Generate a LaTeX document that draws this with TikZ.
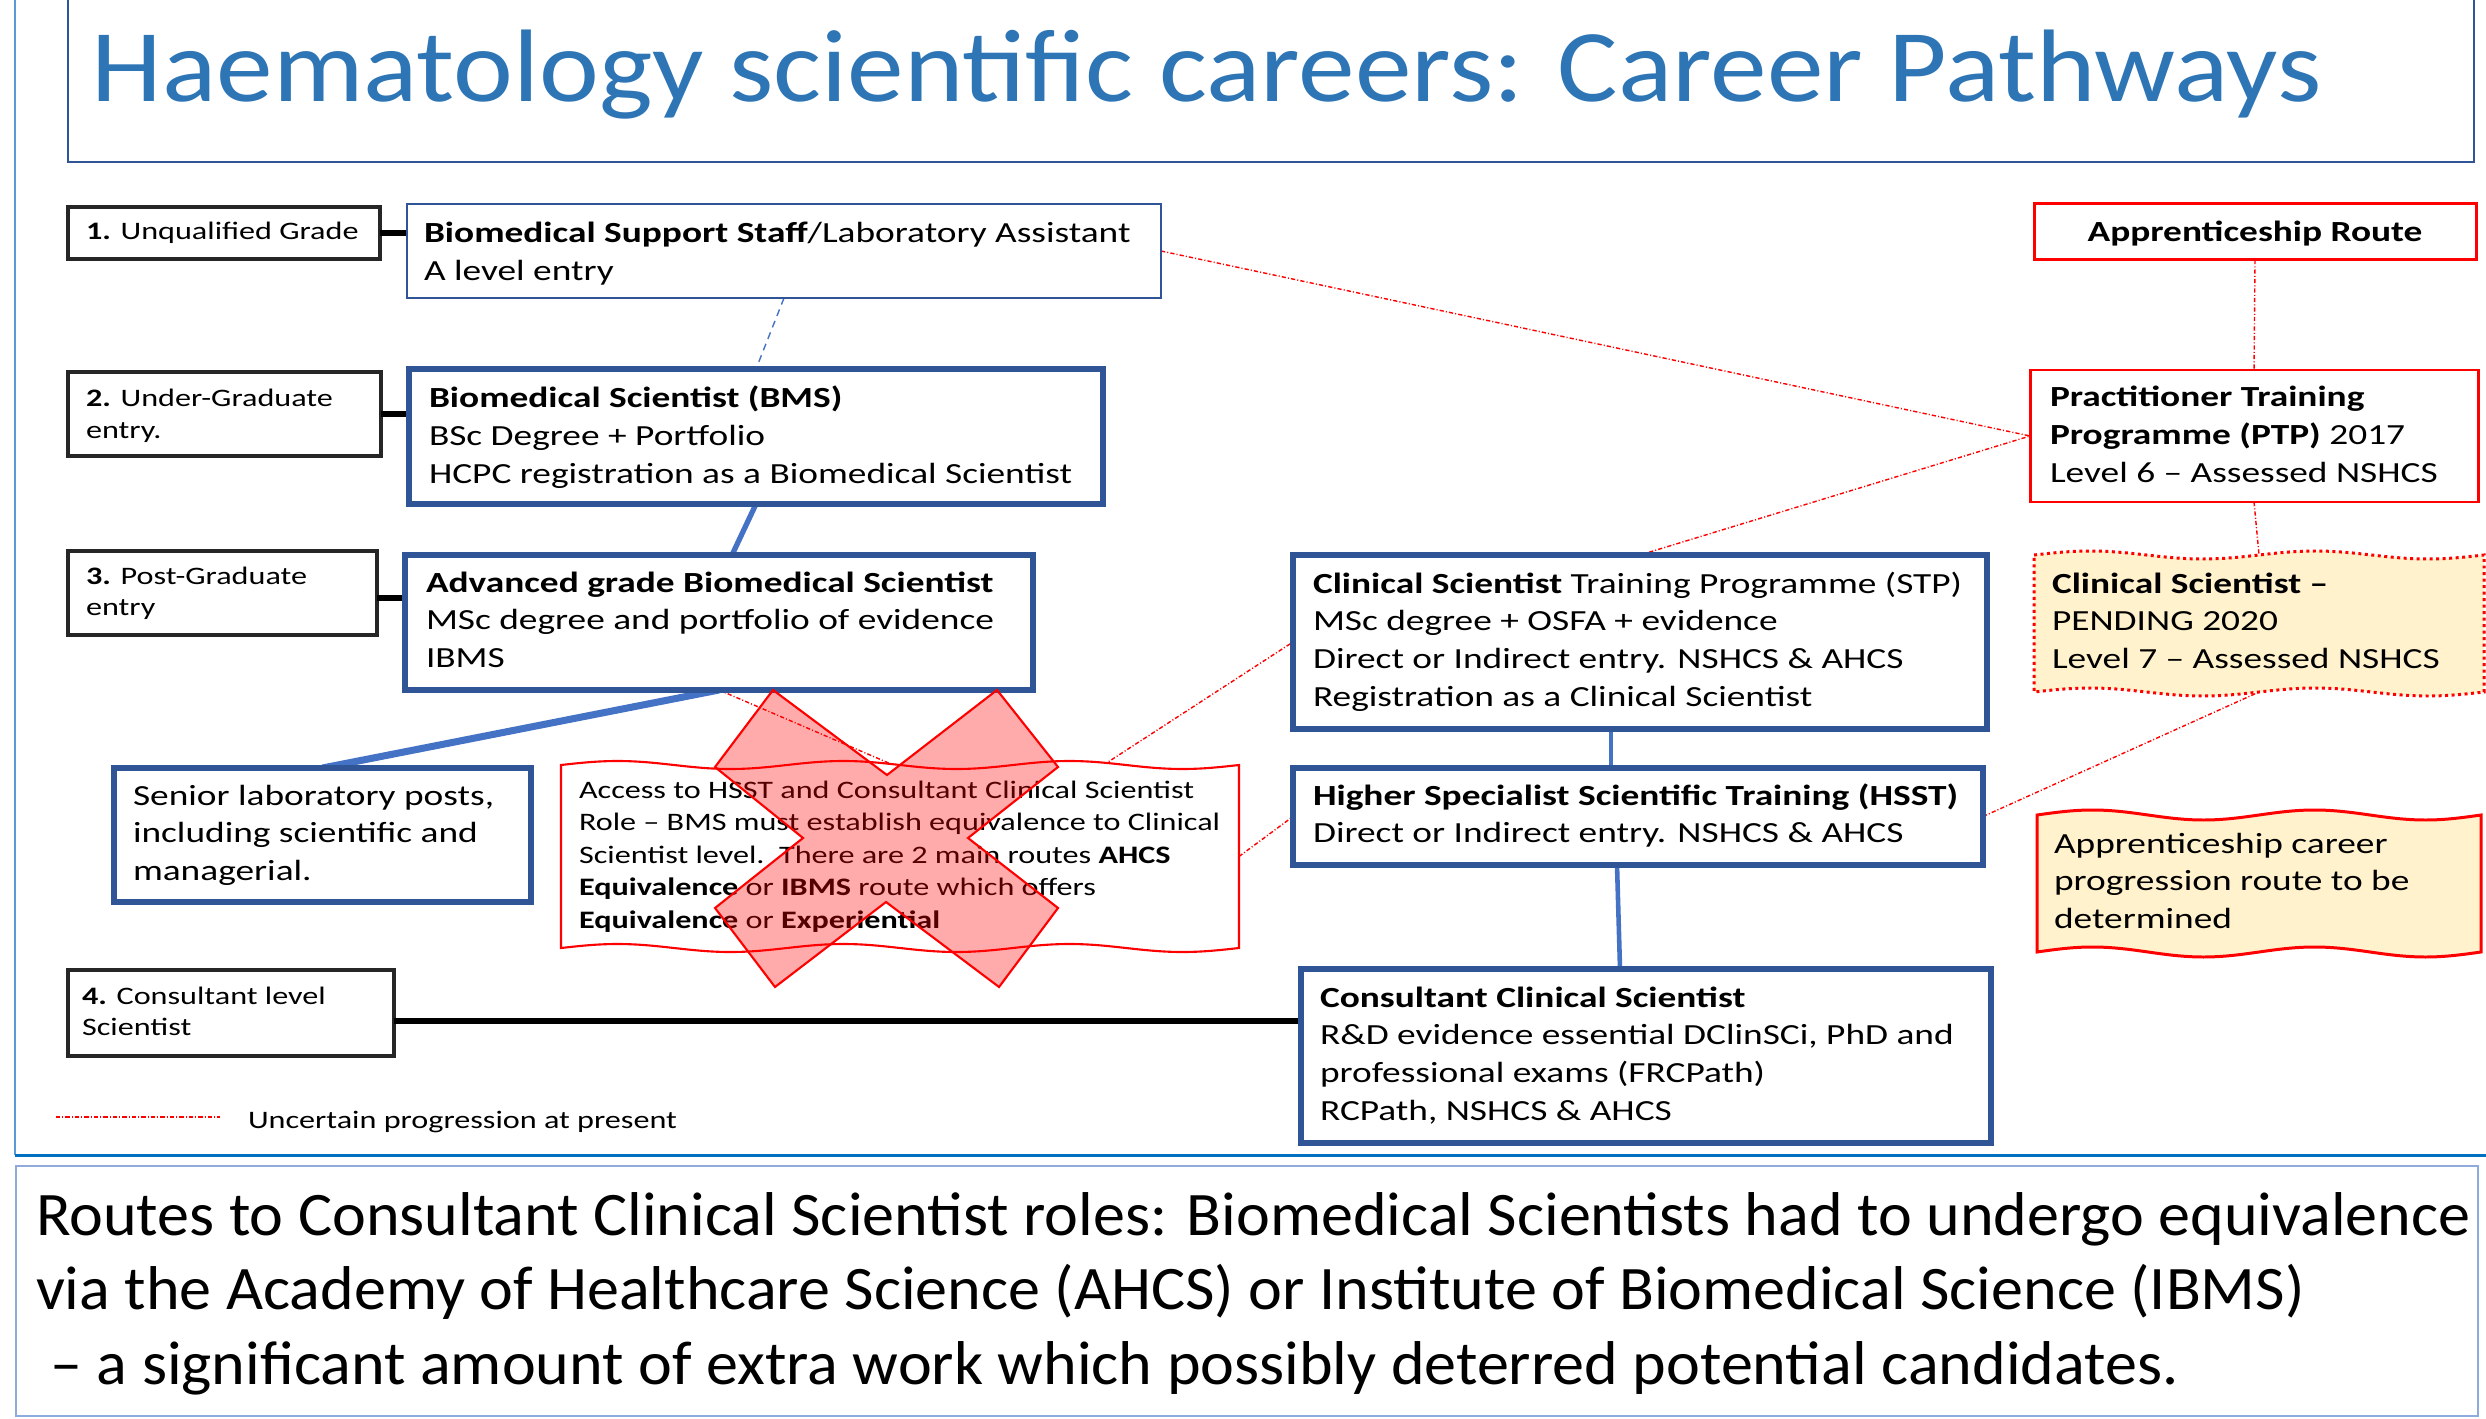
\documentclass[tikz,border=0pt]{standalone}
\usepackage{fontspec}
\setmainfont{Carlito}[FakeStretch=1.28]
\newfontfamily\titlefont{Carlito}[FakeStretch=1.10]
\newfontfamily\captionfont{Carlito}[FakeStretch=1.035]
\usetikzlibrary{fit,calc}

\definecolor{titleblue}{HTML}{2E75B6}
\definecolor{boxblue}{HTML}{2F5597}
\definecolor{linkblue}{HTML}{4472C4}
\definecolor{framelight}{HTML}{5B9BD5}
\definecolor{frameblue}{HTML}{0070C0}
\definecolor{notefill}{HTML}{FFF2CC}
\definecolor{captionframe}{HTML}{8FAADC}
\definecolor{levelblack}{HTML}{262626}
\definecolor{alertred}{HTML}{FF0000}

\newcommand{\fstitle}{\titlefont\fontsize{29.3pt}{35pt}\selectfont}
\newcommand{\fsbox}{\fontsize{8.3pt}{10.8pt}\selectfont}
\newcommand{\fslevel}{\fontsize{7.15pt}{9pt}\selectfont}
\newcommand{\fsnote}{\fontsize{7.15pt}{9.25pt}\selectfont}
\newcommand{\fscaption}{\captionfont\fontsize{17.6pt}{21.3pt}\selectfont}
\newcommand{\lines}[1]{\begin{tabular}[t]{@{}l@{}}#1\end{tabular}}

% rectangle with wavy top and bottom edges
\newcommand{\wavyrect}[7]{%
  \pgfmathsetmacro{\wq}{(#4-#2)/(4*#6)}%
  \path[#1] (#2,#3)
    \foreach \k in {1,...,#6}{ sin ++(\wq,-#7) cos ++(\wq,#7) sin ++(\wq,#7) cos ++(\wq,-#7) }
    -- (#4,#5)
    \foreach \k in {1,...,#6}{ sin ++(-\wq,#7) cos ++(-\wq,-#7) sin ++(-\wq,-#7) cos ++(-\wq,#7) }
    -- cycle;
}

\tikzset{
  frame/.style={inner sep=0pt, outer sep=0pt},
  levelbox/.style={frame, draw=levelblack, line width=1.4pt, fill=white},
  mainbox/.style={frame, draw=boxblue, line width=1.7pt, fill=white},
  thinbox/.style={frame, draw=boxblue, line width=0.6pt, fill=white},
  routebox/.style={frame, draw=alertred, line width=0.85pt, fill=white},
  anchorbox/.style={frame},
  txt/.style={anchor=base west, inner sep=0pt, outer sep=0pt, text=black},
  levellink/.style={draw=black, line width=1.5pt},
  bluelink/.style={draw=linkblue, line width=1.5pt},
  bluedash/.style={draw=linkblue, line width=0.4pt, dash pattern=on 2pt off 1.5pt},
  uncertain/.style={draw=alertred, line width=0.4pt, dash pattern=on 1.2pt off 0.6pt on 0.3pt off 0.6pt},
}

\begin{document}
\begin{tikzpicture}[x=0.01cm, y=-0.01cm]
\useasboundingbox (0,0) rectangle (2486,1419);

% page frame and title banner
\draw[framelight, line width=0.6pt] (15,0) -- (15,1155);
\draw[frameblue, line width=0.85pt] (15,1155) -- (2486,1155);
\draw[boxblue, line width=0.6pt] (68,-10) rectangle (2474,162);
\node[anchor=base west, inner sep=0pt, text=titleblue, font=\fstitle] (title) at (91,102)
  {Haematology scientific careers: Career Pathways};

% boxes (outlines only, text is set separately)
\node[levelbox, fit={(68,207) (380,259)}] (lvl1) {};
\node[levelbox, fit={(68,372) (381,456)}] (lvl2) {};
\node[levelbox, fit={(68,551) (377,635)}] (lvl3) {};
\node[levelbox, fit={(68,970) (394,1056)}] (lvl4) {};

\node[anchorbox, fit={(407,204) (1161,298)}] (bss) {};
\node[anchorbox, fit={(409,369) (1103,504)}] (bms) {};
\node[anchorbox, fit={(405,555) (1033,690)}] (adv) {};
\node[anchorbox, fit={(114,768) (531,902)}] (senior) {};
\node[anchorbox, fit={(561,765) (1239,948)}] (acc) {};
\node[anchorbox, fit={(1293,555) (1987,729)}] (stp) {};
\node[anchorbox, fit={(1293,768) (1983,865)}] (hsst) {};
\node[anchorbox, fit={(1301,969) (1991,1143)}] (cons) {};
\node[anchorbox, fit={(2034,204) (2476,260)}] (app) {};
\node[anchorbox, fit={(2030,370) (2478,502)}] (ptp) {};
\node[anchorbox, fit={(2034,555) (2484,692)}] (pend) {};
\node[anchorbox, fit={(2037,815) (2481,952)}] (career) {};

% uncertain progression links
\draw[uncertain] (bss.east) -- (ptp.west);
\draw[uncertain] (stp.north) -- (ptp.west);
\draw[uncertain] (adv.south) -- ($(acc.north west)!0.49!(acc.north east)$);
\draw[uncertain] ($(acc.north west)!0.8!(acc.north east)$) -- (stp.west);
\draw[uncertain] (acc.east) -- (hsst.west);
\draw[uncertain] (hsst.east) -- (pend.south);
\draw[uncertain] (app.south) -- (ptp.north);
\draw[uncertain] (ptp.south) -- (pend.north);

% solid links
\draw[levellink] (lvl1.east) -- (bss.west |- lvl1.east);
\draw[levellink] (lvl2.east) -- (bms.west |- lvl2.east);
\draw[levellink] ([yshift=-0.05cm]lvl3.east) -- ([yshift=-0.05cm]adv.west |- lvl3.east);
\draw[levellink, line width=1.7pt] ([yshift=-0.08cm]lvl4.east) -- ([yshift=-0.08cm]cons.west |- lvl4.east);
\draw[bluedash] (bss.south) -- (bms.north);
\draw[bluelink] (bms.south) -- ($(adv.north)+(13,0)$);
\draw[bluelink, line width=2pt] (adv.south) -- (senior.north);
\draw[bluelink, line width=1.3pt] ($(stp.south)+(-29,0)$) -- ($(hsst.north)+(-27,0)$);
\draw[bluelink, line width=1.3pt] ($(hsst.south)+(-21,0)$) -- ($(cons.north)+(-26,0)$);

% box outlines
\draw[thinbox] (bss.north west) rectangle (bss.south east);
\draw[mainbox] (bms.north west) rectangle (bms.south east);
\draw[mainbox] (adv.north west) rectangle (adv.south east);
\draw[mainbox] (senior.north west) rectangle (senior.south east);
\draw[mainbox] (stp.north west) rectangle (stp.south east);
\draw[mainbox] (hsst.north west) rectangle (hsst.south east);
\draw[mainbox] (cons.north west) rectangle (cons.south east);
\draw[routebox] (app.north west) rectangle (app.south east);
\draw[routebox] (ptp.north west) rectangle (ptp.south east);
\wavyrect{draw=alertred, line width=0.6pt, fill=white}{561}{765}{1239}{948}{3}{4}
\wavyrect{draw=alertred, line width=0.85pt, densely dotted, fill=notefill}{2034}{555}{2484}{692}{2}{4}
\wavyrect{draw=alertred, line width=0.85pt, fill=notefill}{2037}{815}{2481}{952}{2}{5}

% level labels
\node[txt, font=\fslevel] (lvl1T) at (86,240) {\textbf{1.} Unqualified Grade};
\node[txt, font=\fslevel] (lvl2T) at (86,407) {\lines{\textbf{2.} Under-Graduate\\entry.}};
\node[txt, font=\fslevel] (lvl3T) at (86,584) {\lines{\textbf{3.} Post-Graduate\\entry}};
\node[txt, font=\fslevel] (lvl4T) at (82,1004) {\lines{\textbf{4.} Consultant level\\Scientist}};

% box texts
\node[txt, font=\fsbox] (bssT) at (424,243)
  {\lines{\textbf{Biomedical Support Staff}/Laboratory Assistant\\A level entry}};
\node[txt, font=\fsbox] (bmsT) at (429,408)
  {\lines{\textbf{Biomedical Scientist (BMS)}\\BSc Degree + Portfolio\\HCPC registration as a Biomedical Scientist}};
\node[txt, font=\fsbox] (advT) at (426,592)
  {\lines{\textbf{Advanced grade Biomedical Scientist}\\MSc degree and portfolio of evidence\\IBMS}};
\node[txt, font=\fsbox] (seniorT) at (133,805)
  {\lines{Senior laboratory posts,\\including scientific and\\managerial.}};
\node[txt, font=\fsnote] (accT) at (579,798)
  {\lines{Access to HSST and Consultant Clinical Scientist\\Role – BMS must establish equivalence to Clinical\\Scientist level.\ \ There are 2 main routes \textbf{AHCS}\\\textbf{Equivalence} or \textbf{IBMS} route which offers\\\textbf{Equivalence} or \textbf{Experiential}}};
\node[txt, font=\fsbox] (stpT) at (1313,593)
  {\lines{\textbf{Clinical Scientist} Training Programme (STP)\\MSc degree + OSFA + evidence\\Direct or Indirect entry. NSHCS \& AHCS\\Registration as a Clinical Scientist}};
\node[txt, font=\fsbox] (hsstT) at (1313,805)
  {\lines{\textbf{Higher Specialist Scientific Training (HSST)}\\Direct or Indirect entry. NSHCS \& AHCS}};
\node[txt, font=\fsbox] (consT) at (1320,1007)
  {\lines{\textbf{Consultant Clinical Scientist}\\R\&D evidence essential DClinSCi, PhD and\\professional exams (FRCPath)\\RCPath, NSHCS \& AHCS}};
\node[anchor=base, inner sep=0pt, font=\fsbox\bfseries] (appT) at (2255,242) {Apprenticeship Route};
\node[txt, font=\fsbox] (ptpT) at (2050,407)
  {\lines{\textbf{Practitioner Training}\\\textbf{Programme (PTP)} 2017\\Level 6 – Assessed NSHCS}};
\node[txt, font=\fsbox] (pendT) at (2052,593)
  {\lines{\textbf{Clinical Scientist –}\\PENDING 2020\\Level 7 – Assessed NSHCS}};
\node[txt, font=\fsbox] (careerT) at (2054,853)
  {\lines{Apprenticeship career\\progression route to be\\determined}};

% crossed-out route
\draw[alertred, line width=0.6pt, fill=alertred, fill opacity=0.33]
  (773,690) -- (887,775) -- (997,690) -- (1058,767) -- (968,838) -- (1058,908)
  -- (999,987) -- (886,902) -- (775,987) -- (715,908) -- (803,838) -- (715,767) -- cycle;

% legend
\draw[uncertain] (56,1117) -- (220,1117);
\node[txt, font=\fslevel] (legendT) at (248,1128) {Uncertain progression at present};

% caption panel
\draw[captionframe, line width=0.6pt] (16,1166) rectangle (2478,1416);
\node[txt, font=\fscaption] (captionT) at (36,1235)
  {\lines{Routes to Consultant Clinical Scientist roles: Biomedical Scientists had to undergo equivalence\\via the Academy of Healthcare Science (AHCS) or Institute of Biomedical Science (IBMS)\\~– a significant amount of extra work which possibly deterred potential candidates.}};
\end{tikzpicture}
\end{document}
